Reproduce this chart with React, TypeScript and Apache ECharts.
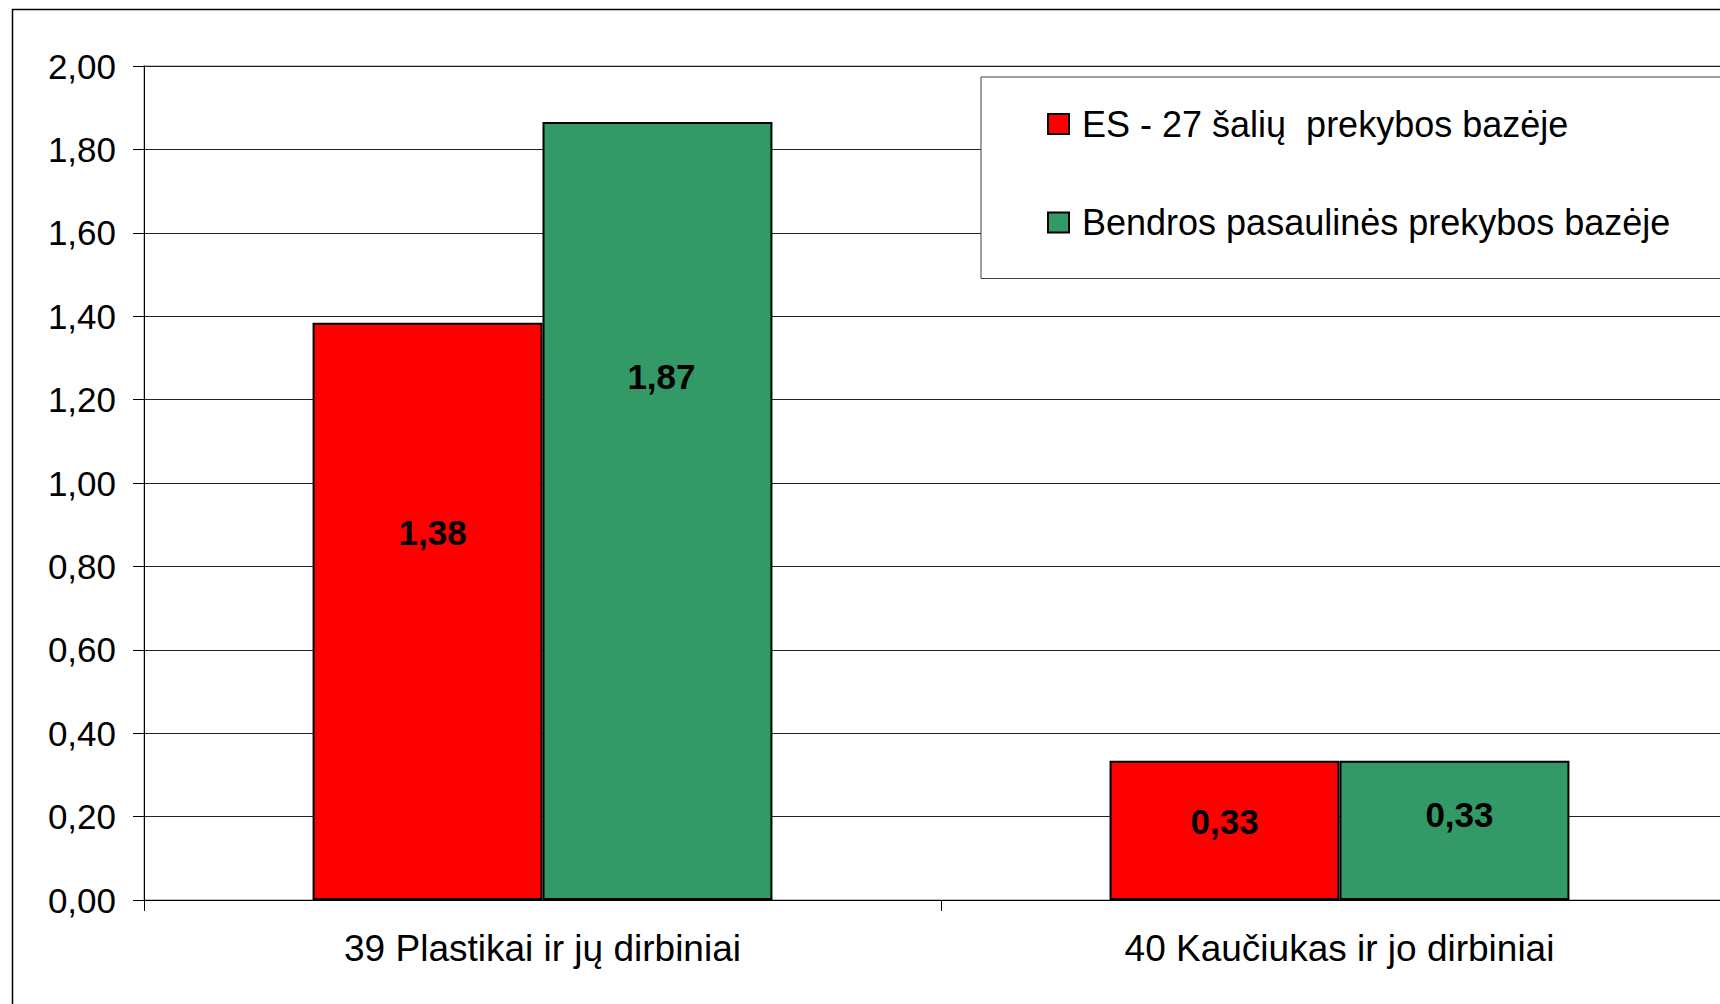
import React, { useEffect, useRef } from "react";
import * as echarts from "echarts";

const categories = ["39 Plastikai ir jų dirbiniai", "40 Kaučiukas ir jo dirbiniai"];
const seriesNames = ["ES - 27 šalių  prekybos bazėje", "Bendros pasaulinės prekybos bazėje"];
const esValues = [1.384, 0.334];
const worldValues = [1.866, 0.334];
const yMin = 0;
const yMax = 2;
const yStep = 0.2;

// label placement (style only): offset from bar top and horizontal nudge
const esLabelPlace = [
  { dy: 210, dx: 5 },
  { dy: 61, dx: 0 },
];
const worldLabelPlace = [
  { dy: 255, dx: 4 },
  { dy: 54, dx: 5 },
];

const FONT = "'Liberation Sans', Arial, Helvetica, sans-serif";
const fmt = (v: number) => v.toFixed(2).replace(".", ",");

export default function App() {
  const ref = useRef<HTMLDivElement>(null);
  useEffect(() => {
    if (!ref.current) return;
    const chart = echarts.init(ref.current, undefined, { renderer: "svg" });
    const mkData = (vals: number[], place: { dy: number; dx: number }[]) =>
      vals.map((v, i) => ({
        value: v,
        label: { position: ["50%", place[i].dy], offset: [place[i].dx, 0] },
      }));
    const labelStyle = {
      show: true,
      align: "center",
      verticalAlign: "middle",
      fontSize: 35,
      fontWeight: "bold",
      color: "#000",
      fontFamily: FONT,
      formatter: (p: any) => fmt(Number(p.value)),
    };
    chart.setOption({
      animation: false,
      backgroundColor: "#fff",
      graphic: [
        {
          type: "rect",
          silent: true,
          z: -10,
          shape: { x: 12.5, y: 9.5, width: 3000, height: 3000 },
          style: { fill: "none", stroke: "#000", lineWidth: 1.5 },
        },
      ],
      grid: {
        left: 144,
        top: 66,
        width: 1594,
        height: 834,
        outerBoundsMode: "none",
        containLabel: false,
        show: true,
        borderColor: "#c0c0c0",
        borderWidth: 2,
        backgroundColor: "transparent",
      },
      legend: {
        data: seriesNames,
        orient: "vertical",
        left: 981,
        top: 77,
        padding: [29, 400, 38, 66],
        itemWidth: 21,
        itemHeight: 20,
        itemGap: 62.5,
        backgroundColor: "#fff",
        borderColor: "#404040",
        borderWidth: 1,
        icon: "rect",
        itemStyle: { borderColor: "#000", borderWidth: 2 },
        textStyle: {
          fontSize: 36,
          color: "#000",
          fontFamily: FONT,
          padding: [0, 0, 0, 8],
        },
      },
      xAxis: {
        type: "category",
        data: categories,
        axisLine: { show: true, lineStyle: { color: "#000", width: 1 } },
        axisTick: { show: true, length: 11, lineStyle: { color: "#000", width: 1 } },
        axisLabel: { fontSize: 37, color: "#000", fontFamily: FONT, margin: 30 },
        splitLine: { show: false },
      },
      yAxis: {
        type: "value",
        min: yMin,
        max: yMax,
        interval: yStep,
        axisLine: { show: true, lineStyle: { color: "#000", width: 1 } },
        axisTick: { show: true, length: 11, lineStyle: { color: "#000", width: 1 } },
        axisLabel: {
          fontSize: 35,
          color: "#000",
          fontFamily: FONT,
          margin: 28,
          formatter: (v: number) => fmt(v),
        },
        splitLine: { show: true, lineStyle: { color: "#222", width: 1 } },
      },
      series: [
        {
          name: seriesNames[0],
          type: "bar",
          barGap: "0%",
          barCategoryGap: "42.3%",
          itemStyle: { color: "#ff0000", borderColor: "#000", borderWidth: 2 },
          label: labelStyle,
          data: mkData(esValues, esLabelPlace),
        },
        {
          name: seriesNames[1],
          type: "bar",
          barGap: "0%",
          barCategoryGap: "42.3%",
          itemStyle: { color: "#339966", borderColor: "#000", borderWidth: 2 },
          label: labelStyle,
          data: mkData(worldValues, worldLabelPlace),
        },
      ],
    });
    return () => chart.dispose();
  }, []);
  return (
    <div
      ref={ref}
      style={{ position: "fixed", left: 0, top: 0, width: 1720, height: 1004, background: "#fff" }}
    />
  );
}
